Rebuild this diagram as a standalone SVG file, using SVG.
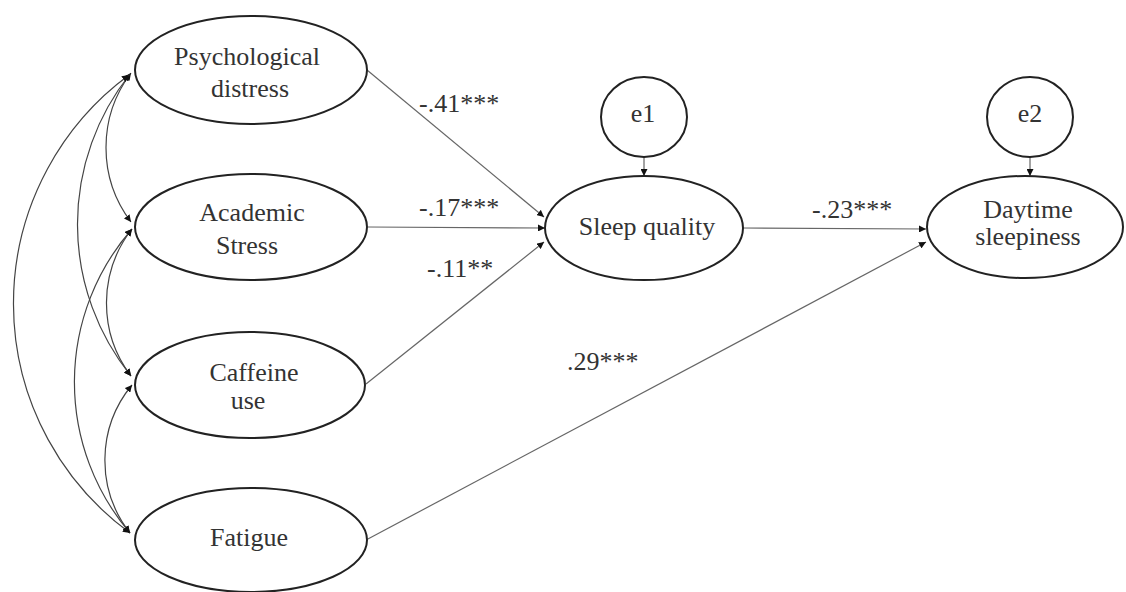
<svg xmlns="http://www.w3.org/2000/svg" width="1126" height="592" viewBox="0 0 1126 592">
<style>
.node{fill:#fff;stroke:#222;stroke-width:2}
.t{font-family:"Liberation Serif","Times New Roman",serif;font-size:26px;fill:#333;text-anchor:middle}
.lab{font-family:"Liberation Serif","Times New Roman",serif;font-size:26px;fill:#333}
.cov{fill:none;stroke:#444;stroke-width:1.2;marker-start:url(#ah);marker-end:url(#ah)}
.arr{fill:none;stroke:#666;stroke-width:1.2;marker-end:url(#ah)}
</style>
<defs>
<marker id="ah" viewBox="0 0 10 10" refX="10" refY="5" markerWidth="7" markerHeight="7" markerUnits="userSpaceOnUse" orient="auto-start-reverse">
<path d="M0,0 L10,5 L0,10 z" fill="#111"/>
</marker>
</defs>
<rect width="1126" height="592" fill="#fff"/>
<g id="connectors">
<path class="arr" d="M367,70 L544,217"/>
<path class="arr" d="M368,227 L545,228"/>
<path class="arr" d="M366,384 L544,242"/>
<path class="arr" d="M743,228 L926,229"/>
<path class="arr" d="M366,540 L926,242"/>
<path class="arr" d="M644,157 L644,176"/>
<path class="arr" d="M1030,157 L1030,176"/>
<path class="cov" d="M131,73 A123.5 123.5 0 0 0 131,222"/>
<path class="cov" d="M130,74 A241.6 241.6 0 0 0 131,376"/>
<path class="cov" d="M129,75 A284 284 0 0 0 130,533"/>
<path class="cov" d="M132,229 A120.5 120.5 0 0 0 131,376"/>
<path class="cov" d="M132,229 A232.5 232.5 0 0 0 130,533"/>
<path class="cov" d="M132,385 A118 118 0 0 0 130,533"/>
</g>
<g id="psych"><ellipse class="node" cx="251" cy="70" rx="116" ry="54"/><text class="t" x="247" y="65">Psychological</text><text class="t" x="250" y="97">distress</text></g>
<g id="academic"><ellipse class="node" cx="251" cy="227" rx="116" ry="53"/><text class="t" x="252" y="221">Academic</text><text class="t" x="247" y="254">Stress</text></g>
<g id="caffeine"><ellipse class="node" cx="250" cy="385" rx="115" ry="53"/><text class="t" x="254" y="381">Caffeine</text><text class="t" x="248" y="409">use</text></g>
<g id="fatigue"><ellipse class="node" cx="251" cy="540" rx="116" ry="52"/><text class="t" x="249" y="546">Fatigue</text></g>
<g id="sleep"><ellipse class="node" cx="644" cy="228" rx="99" ry="52"/><text class="t" x="647" y="235">Sleep quality</text></g>
<g id="e1"><ellipse class="node" cx="644" cy="117" rx="43" ry="40"/><text class="t" x="643" y="122">e1</text></g>
<g id="daytime"><ellipse class="node" cx="1025" cy="227" rx="98" ry="51"/><text class="t" x="1028" y="218">Daytime</text><text class="t" x="1028" y="245">sleepiness</text></g>
<g id="e2"><ellipse class="node" cx="1030" cy="117" rx="43" ry="40"/><text class="t" x="1030" y="122">e2</text></g>
<g id="labels">
<text class="lab" x="419" y="112">-.41***</text>
<text class="lab" x="419" y="216">-.17***</text>
<text class="lab" x="427" y="277">-.11**</text>
<text class="lab" x="567" y="370">.29***</text>
<text class="lab" x="812" y="218">-.23***</text>
</g>
</svg>
